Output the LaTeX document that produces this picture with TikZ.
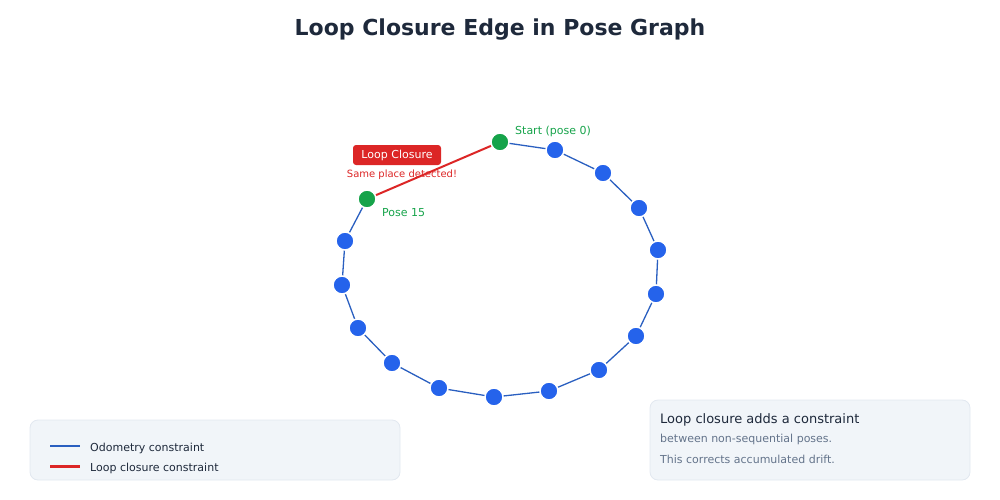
\documentclass[tikz,border=0pt]{standalone}
\usepackage{fontspec}
\setmainfont{DejaVu Sans}
\definecolor{blueN}{HTML}{2563EB}
\definecolor{blueL}{HTML}{2A5FC0}
\definecolor{greenN}{HTML}{16A34A}
\definecolor{redN}{HTML}{DC2626}
\definecolor{titleC}{HTML}{1E293B}
\definecolor{boxF}{HTML}{F1F5F9}
\definecolor{boxD}{HTML}{E2E8F0}
\definecolor{grayT}{HTML}{64748B}
\begin{document}
\begin{tikzpicture}[x=1pt,y=-1pt,
  pose/.style={circle,fill=blueN,draw=white,line width=1.5pt,minimum size=18pt,inner sep=0pt},
  gpose/.style={pose,fill=greenN},
  odo/.style={draw=blueL,line width=1.3pt},
  lc/.style={draw=redN,line width=2pt},
  panel/.style={draw=boxD,fill=boxF,rounded corners=8pt,line width=0.8pt},
  lbl/.style={inner sep=0pt,anchor=west}]
\useasboundingbox (0,0) rectangle (1000,500);
\node[font=\bfseries\fontsize{22}{26}\selectfont,text=titleC] (title) at (500,30) {Loop Closure Edge in Pose Graph};
% poses
\foreach \i/\x/\y in {1/555/150,2/603/173,3/639/208,4/658/250,5/656/294,6/636/336,7/599/370,8/549/391,9/494/397,10/439/388,11/392/363,12/358/328,13/342/285,14/345/241}
  \coordinate (c\i) at (\x,\y);
\coordinate (c0) at (500,142);
\coordinate (c15) at (367,199);
\foreach \a/\b in {0/1,1/2,2/3,3/4,4/5,5/6,6/7,7/8,8/9,9/10,10/11,11/12,12/13,13/14,14/15}
  \draw[odo] (c\a) -- (c\b);
\draw[lc] (c15) -- (c0);
\foreach \i in {1,...,14} \node[pose] (p\i) at (c\i) {};
\node[gpose] (p0) at (c0) {};
\node[gpose] (p15) at (c15) {};
\node[lbl,text=greenN,font=\fontsize{11}{13}\selectfont] (l0) at (515,131) {Start (pose 0)};
\node[lbl,text=greenN,font=\fontsize{11}{13}\selectfont] (l15) at (382,213) {Pose 15};
\node[fill=redN,rounded corners=3pt,text=white,minimum width=88pt,minimum height=20pt,inner sep=0pt,font=\fontsize{11}{13}\selectfont] (lcl) at (397,155) {Loop Closure};
\node[text=redN,font=\fontsize{10}{12}\selectfont,inner sep=0pt] (lcs) at (402,175) {Same place detected!};
% legend
\draw[panel] (30,420) rectangle (400,480);
\coordinate (la1) at (50,446); \coordinate (lb1) at (80,446);
\coordinate (la2) at (50,466); \coordinate (lb2) at (80,466);
\draw[odo,line width=2pt] (la1) -- (lb1);
\draw[lc,line width=3pt] (la2) -- (lb2);
\node[lbl,text=titleC,font=\fontsize{11}{13}\selectfont] (t1) at (90,448) {Odometry constraint};
\node[lbl,text=titleC,font=\fontsize{11}{13}\selectfont] (t2) at (90,468) {Loop closure constraint};
% info
\draw[panel] (650,400) rectangle (970,480);
\node[lbl,text=titleC,font=\fontsize{13}{15}\selectfont] (i1) at (660,420) {Loop closure adds a constraint};
\node[lbl,text=grayT,font=\fontsize{11}{13}\selectfont] (i2) at (660,439) {between non-sequential poses.};
\node[lbl,text=grayT,font=\fontsize{11}{13}\selectfont] (i3) at (660,459) {This corrects accumulated drift.};
\end{tikzpicture}
\end{document}
